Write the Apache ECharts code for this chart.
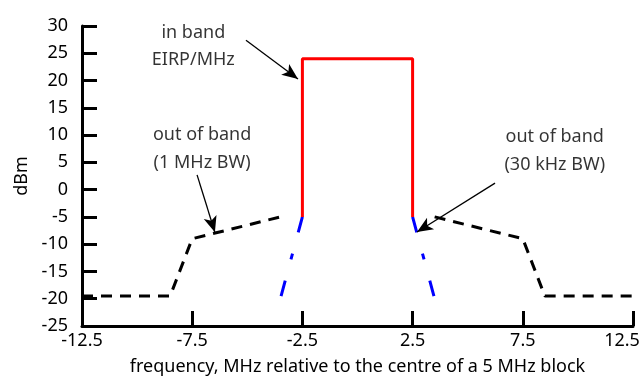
<!DOCTYPE html>
<html><head><meta charset="utf-8">
<script src="https://cdn.jsdelivr.net/npm/echarts@6/dist/echarts.min.js"></script>
<style>html,body{margin:0;padding:0;background:#fff}#c{width:644px;height:378px}</style>
</head><body><div id="c"></div>
<script>
// in-band EIRP (red)
const inBandX = [-2.5, -2.5, 2.5, 2.5];
const inBandY = [-5, 24, 24, -5];
// out-of-band 30 kHz BW (blue dashed), left and right
const oob30LeftX = [-2.5, -3.5];
const oob30LeftY = [-5, -20];
const oob30RightX = [2.5, 3.5];
const oob30RightY = [-5, -20];
// out-of-band 1 MHz BW (black dashed)
const oob1X = [-12.5, -8.5, -7.5, -3.5, null, 3.5, 7.5, 8.5, 12.5];
const oob1Y = [-19.5, -19.5, -9, -5, null, -5, -9, -19.5, -19.5];
// axis ticks
const xTicks = [-12.5, -7.5, -2.5, 2.5, 7.5, 12.5];
const yTicks = [-25, -20, -15, -10, -5, 0, 5, 10, 15, 20, 25, 30];
// annotations (data coords)
const annoText = ['in band', 'EIRP/MHz', 'out of band', '(1 MHz BW)', 'out of band', '(30 kHz BW)'];
const annoX = [-7.45, -7.45, -7.05, -7.05, 8.95, 8.95];
const annoY = [28.7, 23.8, 10.0, 4.9, 9.65, 4.5];
const arrowFromX = [-5.06, -7.28, 6.24];
const arrowFromY = [27.4, 2.7, 1.2];
const arrowToX = [-2.7, -6.47, 2.7];
const arrowToY = [20.3, -7.8, -7.77];

const FONT = 'Noto Sans';
const FS = 18;
const pairs = (xs, ys) => xs.map((x, i) => x === null ? [null, null] : [x, ys[i]]);
const xMax = xTicks[xTicks.length - 1];

const chart = echarts.init(document.getElementById('c'), null, {renderer: 'canvas'});
chart.setOption({
  animation: false,
  grid: {left: 82, right: 11, top: 26, bottom: 52, outerBoundsMode: 'none', containLabel: false},
  xAxis: {
    type: 'value', min: xTicks[0], max: xMax, interval: 5,
    name: 'frequency, MHz relative to the centre of a 5 MHz block',
    nameLocation: 'middle', nameGap: 32,
    nameTextStyle: {color: '#000', fontSize: FS, fontFamily: FONT},
    axisLine: {show: true, onZero: false, lineStyle: {color: '#000', width: 3}},
    axisTick: {show: true, inside: true, length: 15, lineStyle: {color: '#000', width: 3}},
    axisLabel: {color: '#000', fontSize: FS, fontFamily: FONT, margin: 6,
      formatter: v => v === xMax ? '{r|' + v + '}' : String(v),
      rich: {r: {color: '#000', fontSize: FS, fontFamily: FONT, padding: [0, 22, 0, 0]}}},
    splitLine: {show: false}
  },
  yAxis: {
    type: 'value', min: yTicks[0], max: yTicks[yTicks.length - 1], interval: 5,
    name: 'dBm', nameLocation: 'middle', nameGap: 47, nameRotate: 90,
    nameTextStyle: {color: '#000', fontSize: FS, fontFamily: FONT},
    axisLine: {show: true, onZero: false, lineStyle: {color: '#000', width: 3}},
    axisTick: {show: true, inside: true, length: 15, lineStyle: {color: '#000', width: 3}},
    axisLabel: {color: '#000', fontSize: FS, fontFamily: FONT, margin: 14},
    splitLine: {show: false}
  },
  series: [
    {type: 'line', data: pairs(oob1X, oob1Y), symbol: 'none', connectNulls: false,
      lineStyle: {color: '#000', width: 3, type: [11, 8]}, z: 2},
    {type: 'line', data: pairs(oob30LeftX, oob30LeftY), symbol: 'none',
      lineStyle: {color: '#0000ff', width: 3, type: [16, 22, 6, 22]}, z: 3},
    {type: 'line', data: pairs(oob30RightX, oob30RightY), symbol: 'none',
      lineStyle: {color: '#0000ff', width: 3, type: [16, 22, 6, 22]}, z: 3},
    {type: 'line', data: pairs(inBandX, inBandY), symbol: 'none',
      lineStyle: {color: '#ff0000', width: 3}, z: 4},
    {type: 'scatter', data: annoX.map((x, i) => [x, annoY[i], annoText[i]]),
      symbolSize: 0, silent: true,
      label: {show: true, position: 'inside', formatter: p => p.data[2],
        color: '#000', fontSize: FS, fontFamily: FONT},
      markLine: {silent: true, symbol: ['none', 'arrow'], symbolSize: [10, 16],
        label: {show: false},
        lineStyle: {color: '#000', width: 1.3, type: 'solid'},
        data: arrowFromX.map((x, i) => [{coord: [x, arrowFromY[i]]}, {coord: [arrowToX[i], arrowToY[i]]}])
      }, z: 5}
  ]
});
</script></body></html>
